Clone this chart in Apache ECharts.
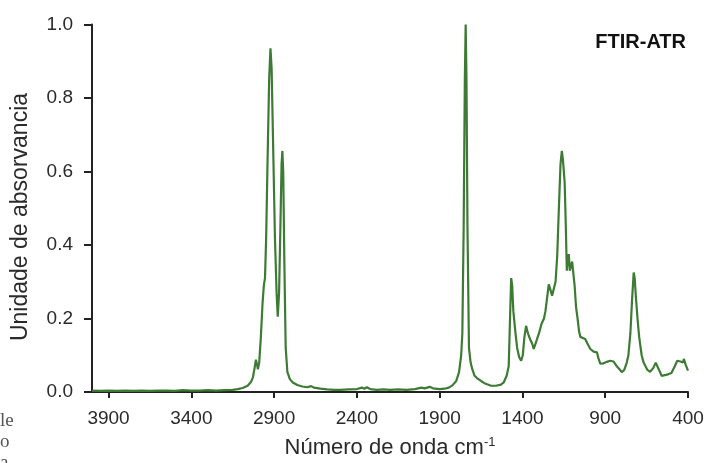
<!DOCTYPE html>
<html>
<head>
<meta charset="utf-8">
<script src="https://cdn.jsdelivr.net/npm/echarts@6/dist/echarts.min.js"></script>
<style>html,body{margin:0;padding:0;background:#fff}#c{width:706px;height:463px}</style>
</head>
<body>
<div id="c"></div>
<script>
// Wavenumbers (cm-1) and absorbance values
const wavenumbers = [
4000,3950,3900,3850,3800,3750,3700,3650,3600,3550,3500,3450,3400,3350,3300,3250,3200,3150,3120,3090,
3060,3040,3028,3018,3010,3003,2998,2990,2980,2970,2962,2955,2948,2940,2930,2922,2915,2905,2895,2885,
2878,2870,2862,2855,2850,2845,2838,2830,2820,2805,2787,2760,2730,2700,2677,2660,2620,2580,2540,2500,
2450,2400,2370,2355,2340,2320,2280,2240,2200,2150,2100,2050,2010,1990,1960,1940,1900,1870,1845,1823,
1800,1783,1770,1763,1755,1748,1743,1738,1732,1723,1713,1703,1690,1675,1665,1650,1630,1613,1590,1560,
1530,1513,1495,1483,1475,1468,1462,1455,1442,1432,1420,1408,1398,1388,1378,1370,1362,1350,1340,1332,
1322,1312,1300,1285,1270,1261,1250,1241,1232,1221,1210,1200,1190,1180,1170,1162,1155,1145,1138,1132,
1126,1120,1114,1108,1100,1094,1085,1076,1067,1058,1050,1035,1021,1005,990,970,950,940,930,910,
890,870,850,830,810,800,785,770,760,748,738,728,722,715,705,695,680,668,659,645,
629,610,595,585,570,559,540,520,500,480,465,455,445,438,430,425,415,400
];
const absorbance = [
0.004,0.003,0.004,0.003,0.004,0.003,0.004,0.003,0.004,0.004,0.003,0.005,0.004,0.004,0.005,0.004,0.005,0.006,0.008,0.011,
0.017,0.027,0.040,0.065,0.088,0.075,0.062,0.080,0.15,0.24,0.29,0.31,0.42,0.62,0.85,0.935,0.88,0.65,0.42,0.27,
0.205,0.27,0.45,0.62,0.656,0.60,0.35,0.12,0.055,0.035,0.026,0.019,0.015,0.013,0.016,0.012,0.009,0.007,0.006,0.006,
0.007,0.008,0.012,0.009,0.013,0.008,0.006,0.007,0.006,0.007,0.006,0.008,0.012,0.010,0.014,0.010,0.008,0.009,0.012,0.018,
0.030,0.054,0.10,0.16,0.45,0.85,1.0,0.85,0.45,0.12,0.08,0.062,0.045,0.038,0.035,0.030,0.024,0.021,0.017,0.017,
0.020,0.026,0.045,0.07,0.20,0.31,0.29,0.22,0.16,0.12,0.095,0.085,0.10,0.15,0.18,0.165,0.153,0.14,0.13,0.117,
0.13,0.144,0.16,0.185,0.20,0.22,0.26,0.293,0.28,0.262,0.258,0.30,0.37,0.50,0.62,0.656,0.63,0.57,0.45,0.33,
0.365,0.375,0.33,0.34,0.355,0.35,0.29,0.23,0.20,0.165,0.15,0.147,0.144,0.13,0.117,0.11,0.108,0.09,0.077,0.078,
0.082,0.085,0.083,0.07,0.06,0.054,0.060,0.080,0.10,0.16,0.25,0.325,0.31,0.26,0.20,0.15,0.10,0.08,0.072,0.06,
0.055,0.065,0.08,0.078,0.055,0.044,0.046,0.048,0.052,0.07,0.085,0.09,0.083,0.085,0.08,0.09,0.075,0.058
];
const xTickValues = [3900,3400,2900,2400,1900,1400,900,400];
const yTickValues = [0,0.2,0.4,0.6,0.8,1.0];

const seriesData = wavenumbers.map((w, i) => [w, absorbance[i]]);
const chart = echarts.init(document.getElementById('c'));
const axisColor = '#222';
const textColor = '#2a2a2a';
const font = 'Liberation Sans, Arial, sans-serif';

chart.setOption({
  animation: false,
  backgroundColor: '#fff',
  grid: { left: 92, right: 18, top: 24.5, bottom: 71, containLabel: false, outerBoundsMode: 'none' },
  title: {
    text: 'FTIR-ATR', right: 15, top: 27,
    textStyle: { fontFamily: font, fontSize: 20, fontWeight: 'bold', color: '#111' }
  },
  xAxis: {
    type: 'value', min: 400, max: 4000, inverse: true,
    name: 'Número de onda cm{sup|-1}',
    nameLocation: 'middle', nameGap: 44,
    nameTextStyle: {
      fontFamily: font, fontSize: 22, color: textColor,
      rich: { sup: { fontFamily: font, fontSize: 13, color: textColor, verticalAlign: 'top', padding: [0,0,11,0] } }
    },
    axisLine: { show: true, lineStyle: { color: axisColor, width: 2 } },
    axisTick: { show: true, inside: false, length: 6, lineStyle: { color: axisColor, width: 2 }, customValues: xTickValues },
    axisLabel: { fontFamily: font, fontSize: 19, color: textColor, margin: 17, customValues: xTickValues, formatter: v => String(v) },
    splitLine: { show: false }
  },
  yAxis: {
    type: 'value', min: 0, max: 1, interval: 0.2,
    axisLine: { show: true, lineStyle: { color: axisColor, width: 2 } },
    axisTick: { show: true, inside: false, length: 8, lineStyle: { color: axisColor, width: 2 } },
    axisLabel: { fontFamily: font, fontSize: 19, color: textColor, margin: 19, formatter: v => v.toFixed(1) },
    splitLine: { show: false }
  },
  series: [{
    type: 'line', data: seriesData, showSymbol: false, smooth: false,
    lineStyle: { color: '#3d7b35', width: 2.2 }
  }],
  graphic: [
    { type: 'text', x: 21, y: 217, rotation: Math.PI / 2,
      style: { text: 'Unidade de absorvancia', font: '23px Liberation Sans, Arial, sans-serif', fill: textColor, align: 'center', verticalAlign: 'middle' } },
    { type: 'text', left: 0, top: 412, style: { text: 'le', font: '19px Liberation Serif, serif', fill: '#555' } },
    { type: 'text', left: 0, top: 433, style: { text: 'o', font: '19px Liberation Serif, serif', fill: '#555' } },
    { type: 'text', left: 0, top: 454, style: { text: 'a', font: '19px Liberation Serif, serif', fill: '#555' } }
  ]
});
</script>
</body>
</html>
